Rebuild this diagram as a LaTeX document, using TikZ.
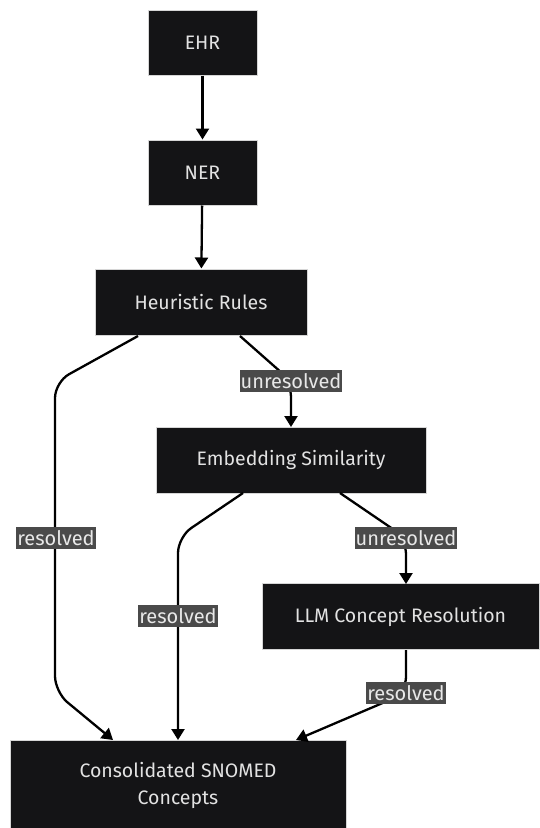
\documentclass[tikz,border=0pt]{standalone}
\usepackage{fontspec}
\setmainfont{Fira Sans}
\usetikzlibrary{arrows.meta}
\definecolor{boxfill}{HTML}{141416}
\definecolor{boxline}{HTML}{D6D6D6}
\definecolor{boxtext}{HTML}{E2E2E2}
\definecolor{lblfill}{HTML}{4A4A4A}
\definecolor{lbltext}{HTML}{E8E8E8}
\begin{document}
\begin{tikzpicture}[x=1pt,y=-1pt,
  procbox/.style={draw=boxline,line width=1pt,fill=boxfill,text=boxtext,font=\fontsize{19.5}{27}\selectfont,inner sep=0pt,align=center},
  lbl/.style={fill=lblfill,text=lbltext,font=\fontsize{20}{22}\selectfont,inner xsep=1pt,inner ysep=1pt,minimum height=22pt},
  conn/.style={line width=2.3pt,-{Triangle[length=11pt,width=13pt]},rounded corners=16pt}]
\useasboundingbox[fill=white] (0,0) rectangle (539,828);
\node[procbox,minimum width=109pt,minimum height=65pt] (ehr) at (202.5,42.5) {EHR};
\node[procbox,minimum width=109pt,minimum height=65pt] (ner) at (202.5,172.5) {NER};
\node[procbox,minimum width=212pt,minimum height=66pt] (heur) at (201,302) {Heuristic Rules};
\node[procbox,minimum width=270pt,minimum height=66pt] (emb) at (291,460) {Embedding Similarity};
\node[procbox,minimum width=277pt,minimum height=66pt] (llm) at (400.5,616.5) {LLM Concept Resolution};
\node[procbox,minimum width=336pt,minimum height=90pt] (cons) at (178,785) {Consolidated SNOMED\\Concepts};
\coordinate (h1) at (138,336);
\coordinate (h2) at (240,336);
\coordinate (e1) at (243,493);
\coordinate (e2) at (340,493);
\coordinate (c1) at (113,740);
\coordinate (c2) at (178,740);
\coordinate (c3) at (296,740);
\draw[conn] (ehr) -- (ner);
\draw[conn] (ner) -- (heur);
\draw[conn] (h1) -- (55,382) -- (55,692) -- (c1);
\draw[conn] (h2) -- (291,381) -- (291,427);
\draw[conn] (e1) -- (178,537) -- (c2);
\draw[conn] (e2) -- (406,538) -- (406,584);
\draw[conn] (406,650) -- (406,693) -- (c3);
\node[lbl] (l1) at (56,538) {resolved};
\node[lbl] (l2) at (291,381) {unresolved};
\node[lbl] (l3) at (178,616) {resolved};
\node[lbl] (l4) at (406,538) {unresolved};
\node[lbl] (l5) at (406,693) {resolved};
\end{tikzpicture}
\end{document}
